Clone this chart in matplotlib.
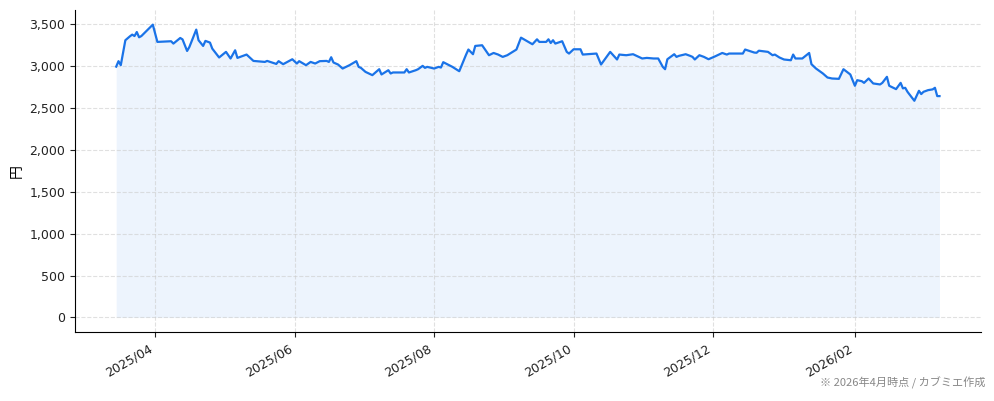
import pandas as pd
import matplotlib
import matplotlib.pyplot as plt
import matplotlib.dates as mdates
from matplotlib.ticker import FuncFormatter

matplotlib.use('Agg')

plt.rcParams['font.family'] = ['DejaVu Sans', 'Noto Sans CJK JP']
plt.rcParams['axes.unicode_minus'] = False

# 株価データ
dates = [
    '2025-03-15', '2025-03-16', '2025-03-17', '2025-03-19', '2025-03-21', '2025-03-22',
    '2025-03-23', '2025-03-24', '2025-03-25', '2025-03-26', '2025-03-31', '2025-04-02',
    '2025-04-08', '2025-04-09', '2025-04-12', '2025-04-13', '2025-04-15', '2025-04-16',
    '2025-04-19', '2025-04-20', '2025-04-22', '2025-04-23', '2025-04-25', '2025-04-26',
    '2025-04-29', '2025-05-02', '2025-05-04', '2025-05-06', '2025-05-07', '2025-05-11',
    '2025-05-14', '2025-05-19', '2025-05-20', '2025-05-22', '2025-05-24', '2025-05-25',
    '2025-05-27', '2025-05-31', '2025-06-02', '2025-06-03', '2025-06-05', '2025-06-06',
    '2025-06-08', '2025-06-10', '2025-06-12', '2025-06-15', '2025-06-16', '2025-06-17',
    '2025-06-18', '2025-06-20', '2025-06-22', '2025-06-25', '2025-06-28', '2025-06-29',
    '2025-06-30', '2025-07-02', '2025-07-05', '2025-07-08', '2025-07-09', '2025-07-12',
    '2025-07-13', '2025-07-14', '2025-07-19', '2025-07-20', '2025-07-21', '2025-07-24',
    '2025-07-25', '2025-07-27', '2025-07-28', '2025-07-29', '2025-08-01', '2025-08-03',
    '2025-08-04', '2025-08-05', '2025-08-09', '2025-08-12', '2025-08-15', '2025-08-16',
    '2025-08-18', '2025-08-19', '2025-08-22', '2025-08-24', '2025-08-25', '2025-08-27',
    '2025-08-29', '2025-08-31', '2025-09-02', '2025-09-06', '2025-09-08', '2025-09-10',
    '2025-09-13', '2025-09-15', '2025-09-16', '2025-09-19', '2025-09-20', '2025-09-21',
    '2025-09-22', '2025-09-23', '2025-09-26', '2025-09-28', '2025-09-29', '2025-10-01',
    '2025-10-04', '2025-10-05', '2025-10-11', '2025-10-13', '2025-10-17', '2025-10-20',
    '2025-10-21', '2025-10-24', '2025-10-27', '2025-10-31', '2025-11-02', '2025-11-05',
    '2025-11-07', '2025-11-09', '2025-11-10', '2025-11-11', '2025-11-14', '2025-11-15',
    '2025-11-16', '2025-11-19', '2025-11-21', '2025-11-22', '2025-11-23', '2025-11-25',
    '2025-11-27', '2025-11-29', '2025-12-02', '2025-12-05', '2025-12-07', '2025-12-08',
    '2025-12-14', '2025-12-15', '2025-12-19', '2025-12-20', '2025-12-21', '2025-12-25',
    '2025-12-27', '2025-12-28', '2025-12-30', '2026-01-01', '2026-01-04', '2026-01-05',
    '2026-01-06', '2026-01-09', '2026-01-12', '2026-01-13', '2026-01-15', '2026-01-17',
    '2026-01-18', '2026-01-20', '2026-01-22', '2026-01-25', '2026-01-27', '2026-01-30',
    '2026-02-01', '2026-02-02', '2026-02-04', '2026-02-05', '2026-02-07', '2026-02-09',
    '2026-02-12', '2026-02-13', '2026-02-15', '2026-02-16', '2026-02-19', '2026-02-21',
    '2026-02-22', '2026-02-23', '2026-02-24', '2026-02-27', '2026-03-01', '2026-03-02',
    '2026-03-03', '2026-03-05', '2026-03-07', '2026-03-08', '2026-03-09', '2026-03-10',
]
prices = [
    2995, 3060, 3012, 3310, 3357, 3377,
    3360, 3408, 3345, 3360, 3496, 3290,
    3298, 3270, 3337, 3320, 3182, 3230,
    3437, 3310, 3242, 3302, 3282, 3210,
    3104, 3171, 3092, 3190, 3099, 3139,
    3063, 3051, 3063, 3045, 3027, 3060,
    3024, 3083, 3032, 3060, 3027, 3012,
    3051, 3032, 3060, 3063, 3051, 3107,
    3044, 3020, 2972, 3012, 3060, 2992,
    2980, 2932, 2893, 2964, 2901, 2952,
    2913, 2925, 2925, 2964, 2925, 2952,
    2964, 3004, 2980, 2992, 2972, 2992,
    2984, 3048, 2992, 2940, 3139, 3199,
    3143, 3242, 3250, 3171, 3131, 3158,
    3139, 3111, 3131, 3199, 3341, 3310,
    3262, 3321, 3290, 3290, 3321, 3277,
    3310, 3270, 3298, 3171, 3151, 3202,
    3202, 3139, 3151, 3020, 3171, 3080,
    3139, 3131, 3143, 3092, 3099, 3092,
    3092, 2992, 2964, 3083, 3143, 3111,
    3123, 3143, 3123, 3111, 3080, 3131,
    3111, 3083, 3119, 3158, 3139, 3151,
    3151, 3199, 3163, 3160, 3185, 3171,
    3131, 3139, 3104, 3080, 3071, 3139,
    3092, 3092, 3158, 3024, 2972, 2932,
    2913, 2865, 2853, 2849, 2964, 2901,
    2766, 2833, 2821, 2801, 2853, 2794,
    2782, 2801, 2873, 2766, 2726, 2801,
    2735, 2742, 2694, 2587, 2706, 2667,
    2694, 2714, 2723, 2742, 2643, 2643,
]

x = pd.to_datetime(dates)
line_color = '#1a73e8'

fig, ax = plt.subplots(figsize=(9.94, 4.01), dpi=100)

ax.plot(x, prices, color=line_color, linewidth=1.6)
ax.fill_between(x, prices, 0, color=line_color, alpha=0.08, linewidth=0)

# 軸の設定
ax.set_ylabel('円', fontsize=10, family=['Noto Sans CJK JP'])
ax.yaxis.set_major_formatter(FuncFormatter(lambda v, p: '{:,.0f}'.format(v)))
ax.xaxis.set_major_locator(mdates.MonthLocator(bymonth=[2, 4, 6, 8, 10, 12]))
ax.xaxis.set_major_formatter(mdates.DateFormatter('%Y/%m'))
ax.tick_params(labelsize=9, colors='#222222')
for lab in ax.get_xticklabels():
    lab.set_rotation(30)
    lab.set_ha('right')

ax.grid(True, linestyle='--', color='#cccccc', linewidth=0.8, alpha=0.6)
ax.spines['top'].set_visible(False)
ax.spines['right'].set_visible(False)

# 出典表記
fig.text(0.991, 0.03, '※ 2026年4月時点 / カブミエ作成', ha='right', va='bottom',
         fontsize=8, color='#888888', family=['Noto Sans CJK JP'])

plt.subplots_adjust(left=0.0755, right=0.9866, top=0.975, bottom=0.172)
plt.savefig('out.png', dpi=100)
